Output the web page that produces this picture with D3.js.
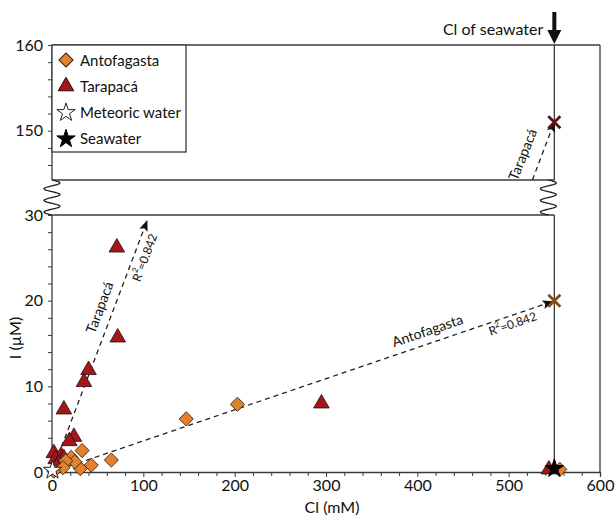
<!DOCTYPE html>
<html>
<head>
<meta charset="utf-8">
<script src="https://cdn.jsdelivr.net/npm/d3@7"></script>
<style>
    body { margin: 0; background: #fff; }
    text { font-family: Lato, "Open Sans", sans-serif; fill: #111; }
</style>
</head>
<body>
<div id="chart"></div>
<script>
// Cl (mM) vs I (uM)
var antoCl = [203, 147, 65, 43, 31, 33, 21, 25, 15, 12, 2, 556];
var antoI = [7.9, 6.2, 1.4, 0.8, 0.4, 2.5, 1.7, 1.2, 1.3, 0.5, 0.1, 0.3];

var taraCl = [71, 72, 40, 35, 13, 24, 19, 2, 10, 13, 4, 7, 5, 295, 544];
var taraI = [26.2, 15.7, 11.9, 10.5, 7.3, 4.1, 3.6, 2.2, 1.9, 1.6, 1.5, 1.0, 0.6, 8.0, 0.3];

var meteoricCl = [0.5], meteoricI = [0.2];
var seawaterCl = [550], seawaterI = [0.4];

// fitted trends (end points) and the seawater intercepts
var taraFitLow = [[0, 0], [104, 29.3]];
var taraFitHigh = [[526, 144.25], [550, 151]];
var antoFit = [[0, 0], [548, 19.9]];
var projected = [{cl: 550, i: 151, c: "#5b1313"}, {cl: 550, i: 20, c: "#8a4a12"}];

var xTicks = [0, 100, 200, 300, 400, 500, 600];
var yLowTicks = [0, 10, 20, 30];
var yHighTicks = [150, 160];
var seawaterClLine = 550;

var width = 615, height = 519;

var x = d3.scaleLinear().domain([0, 600]).range([52, 600]);
var yLo = d3.scaleLinear().domain([0, 30]).range([472, 215]);
var yHi = d3.scaleLinear().domain([144.25, 160]).range([180, 45]);

var svg = d3.select("#chart").append("svg")
    .attr("width", width)
    .attr("height", height);

var defs = svg.append("defs");
defs.append("marker")
    .attr("id", "arr")
    .attr("viewBox", "0 0 10 10")
    .attr("refX", 9).attr("refY", 5)
    .attr("markerWidth", 11).attr("markerHeight", 11)
    .attr("markerUnits", "userSpaceOnUse")
    .attr("orient", "auto")
    .append("path")
    .attr("d", "M0,1 L10,5 L0,9 L2,5 Z")
    .attr("fill", "#111");

var axisColor = "#3a3a3a";

// frame
var sx = x(seawaterClLine);
svg.append("line").attr("x1", x(0)).attr("x2", x(600)).attr("y1", yHi(160)).attr("y2", yHi(160))
    .attr("stroke", axisColor).attr("stroke-width", 1.3);
svg.append("line").attr("x1", x(600)).attr("x2", x(600)).attr("y1", yHi(160)).attr("y2", yLo(0))
    .attr("stroke", axisColor).attr("stroke-width", 1.3);
svg.append("line").attr("x1", x(0)).attr("x2", sx).attr("y1", yHi.range()[0]).attr("y2", yHi.range()[0])
    .attr("stroke", axisColor).attr("stroke-width", 1.3);
svg.append("line").attr("x1", x(0)).attr("x2", sx).attr("y1", yLo(30)).attr("y2", yLo(30))
    .attr("stroke", axisColor).attr("stroke-width", 1.3);

// left axis segments
svg.append("line").attr("x1", x(0)).attr("x2", x(0)).attr("y1", yHi(160)).attr("y2", yHi.range()[0])
    .attr("stroke", axisColor).attr("stroke-width", 1.3);
svg.append("line").attr("x1", x(0)).attr("x2", x(0)).attr("y1", yLo(30)).attr("y2", yLo(0))
    .attr("stroke", axisColor).attr("stroke-width", 1.3);

// seawater Cl line
svg.append("line").attr("x1", sx).attr("x2", sx).attr("y1", yHi(160)).attr("y2", yHi.range()[0])
    .attr("stroke", axisColor).attr("stroke-width", 1.3);
svg.append("line").attr("x1", sx).attr("x2", sx).attr("y1", yLo(30)).attr("y2", yLo(0))
    .attr("stroke", axisColor).attr("stroke-width", 1.3);

// break squiggles
function squiggle(cx, y0, y1, amp) {
    var pts = d3.range(0, 1.0001, 0.01).map(function (t) {
        return [cx + amp * Math.sin(t * Math.PI * 6), y0 + t * (y1 - y0)];
    });
    svg.append("path")
        .attr("d", d3.line().curve(d3.curveBasis)(pts))
        .attr("fill", "none")
        .attr("stroke", "#222")
        .attr("stroke-width", 1.3);
}
squiggle(x(0), yHi.range()[0], yLo(30), 8);
squiggle(sx - 6, yHi.range()[0], yLo(30), 8);

// arrow "Cl of seawater"
svg.append("path")
    .attr("d", "M" + (sx - 2) + ",12 L" + (sx + 2) + ",12 L" + (sx + 2) + ",30 L" + (sx + 7) + ",30 L" + sx + ",44 L" + (sx - 7) + ",30 L" + (sx - 2) + ",30 Z")
    .attr("fill", "#111");
svg.append("text")
    .attr("x", sx - 11).attr("y", 35)
    .attr("text-anchor", "end")
    .style("font-size", "16px")
    .text("Cl of seawater");

// x axis
var xAxisG = svg.append("g")
    .attr("transform", "translate(0," + yLo(0) + ")")
    .call(d3.axisBottom(x).tickValues(xTicks).tickSize(5).tickPadding(3));
xAxisG.select(".domain").attr("stroke", axisColor).attr("stroke-width", 1.3);
xAxisG.selectAll(".tick line").attr("stroke", axisColor);
xAxisG.selectAll(".tick text").style("font-size", "16px").attr("fill", "#111");
svg.append("g")
    .attr("transform", "translate(0," + yLo(0) + ")")
    .call(d3.axisBottom(x).tickValues(d3.range(20, 600, 20).filter(function (d) { return d % 100; }))
        .tickSize(4).tickFormat(""))
    .call(function (g) { g.select(".domain").remove(); g.selectAll("line").attr("stroke", axisColor); });

// y axes
function yAxis(scale, major, minor) {
    var g = svg.append("g")
        .attr("transform", "translate(" + x(0) + ",0)")
        .call(d3.axisLeft(scale).tickValues(major).tickSize(4).tickPadding(5));
    g.select(".domain").remove();
    g.selectAll(".tick line").attr("stroke", axisColor);
    g.selectAll(".tick text").style("font-size", "16px").attr("fill", "#111");
    svg.append("g")
        .attr("transform", "translate(" + x(0) + ",0)")
        .call(d3.axisLeft(scale).tickValues(minor).tickSize(4).tickFormat(""))
        .call(function (m) { m.select(".domain").remove(); m.selectAll("line").attr("stroke", axisColor); });
}
yAxis(yLo, yLowTicks, d3.range(2, 30, 2).filter(function (d) { return d % 10; }));
yAxis(yHi, yHighTicks, d3.range(146, 160, 2).filter(function (d) { return d % 10; }));

// axis titles
svg.append("text")
    .attr("x", 332).attr("y", 513)
    .attr("text-anchor", "middle")
    .style("font-size", "16px")
    .text("Cl (mM)");
svg.append("text")
    .attr("transform", "translate(21,338) rotate(-90)")
    .attr("text-anchor", "middle")
    .style("font-size", "16px")
    .text("I (\u00b5M)");

// trend lines
function fitLine(pts, yScale) {
    svg.append("line")
        .attr("x1", x(pts[0][0])).attr("y1", yScale(pts[0][1]))
        .attr("x2", x(pts[1][0])).attr("y2", yScale(pts[1][1]))
        .attr("stroke", "#222")
        .attr("stroke-width", 1.3)
        .attr("stroke-dasharray", "5,4")
        .attr("marker-end", "url(#arr)");
}
fitLine(taraFitLow, yLo);
fitLine(taraFitHigh, yHi);
fitLine(antoFit, yLo);

function lineLabel(txt, px, py, ang, size) {
    svg.append("text")
        .attr("transform", "translate(" + px + "," + py + ") rotate(" + ang + ")")
        .attr("text-anchor", "middle")
        .attr("dominant-baseline", "middle")
        .style("font-size", size + "px")
        .text(txt);
}
function r2Label(px, py, ang) {
    var t = svg.append("text")
        .attr("transform", "translate(" + px + "," + py + ") rotate(" + ang + ")")
        .attr("text-anchor", "middle")
        .attr("dominant-baseline", "middle")
        .style("font-size", "12px");
    t.append("tspan").text("R");
    t.append("tspan").attr("dy", -5).style("font-size", "8px").text("2");
    t.append("tspan").attr("dy", 5).text("=0.842");
}
lineLabel("Tarapac\u00e1", 101, 308, -69.5, 14);
r2Label(146, 258, -69.5);
lineLabel("Tarapac\u00e1", 524, 155, -68, 14);
lineLabel("Antofagasta", 428, 332, -18.8, 14);
r2Label(513, 325, -18.8);

// projected intercepts at seawater Cl
projected.forEach(function (p) {
    var yy = p.i > 30 ? yHi(p.i) : yLo(p.i);
    var px = x(p.cl), s = 6;
    svg.append("path")
        .attr("d", "M" + (px - s) + "," + (yy - s) + "L" + (px + s) + "," + (yy + s) +
            "M" + (px + s) + "," + (yy - s) + "L" + (px - s) + "," + (yy + s))
        .attr("stroke", p.c)
        .attr("stroke-width", 2.8);
});

// points
var triangle = d3.symbol().type(d3.symbolTriangle).size(105);
var diamond = d3.symbol().type(d3.symbolSquare).size(100);
var star = d3.symbol().type(d3.symbolStar).size(105);

svg.append("g").selectAll("path")
    .data(d3.range(taraCl.length))
    .enter().append("path")
    .attr("d", triangle)
    .attr("transform", function (k) { return "translate(" + x(taraCl[k]) + "," + yLo(taraI[k]) + ")"; })
    .attr("fill", "#a3161b")
    .attr("stroke", "#2a0a0a")
    .attr("stroke-width", 0.8);

svg.append("g").selectAll("path")
    .data(d3.range(antoCl.length))
    .enter().append("path")
    .attr("d", diamond)
    .attr("transform", function (k) { return "translate(" + x(antoCl[k]) + "," + yLo(antoI[k]) + ") rotate(45)"; })
    .attr("fill", "#e3822c")
    .attr("stroke", "#2e1d0e")
    .attr("stroke-width", 0.8);

svg.append("g").selectAll("path")
    .data(d3.range(meteoricCl.length))
    .enter().append("path")
    .attr("d", star)
    .attr("transform", function (k) { return "translate(" + x(meteoricCl[k]) + "," + yLo(meteoricI[k]) + ")"; })
    .attr("fill", "#fff")
    .attr("stroke", "#222")
    .attr("stroke-width", 1);

svg.append("g").selectAll("path")
    .data(d3.range(seawaterCl.length))
    .enter().append("path")
    .attr("d", star)
    .attr("transform", function (k) { return "translate(" + x(seawaterCl[k]) + "," + yLo(seawaterI[k]) + ")"; })
    .attr("fill", "#000")
    .attr("stroke", "#000")
    .attr("stroke-width", 1);

// legend
var legend = svg.append("g");
legend.append("rect")
    .attr("x", x(0)).attr("y", yHi(160))
    .attr("width", 134).attr("height", 107)
    .attr("fill", "#fff")
    .attr("stroke", axisColor)
    .attr("stroke-width", 1.3);
var items = [
    {name: "Antofagasta", sym: diamond, fill: "#e3822c", stroke: "#2e1d0e", rot: 45},
    {name: "Tarapac\u00e1", sym: triangle, fill: "#a3161b", stroke: "#2a0a0a", rot: 0},
    {name: "Meteoric water", sym: star, fill: "#fff", stroke: "#222", rot: 0},
    {name: "Seawater", sym: star, fill: "#000", stroke: "#000", rot: 0}
];
items.forEach(function (it, k) {
    var ly = 60 + k * 26.3;
    legend.append("path")
        .attr("d", it.sym)
        .attr("transform", "translate(66," + ly + ") rotate(" + it.rot + ")")
        .attr("fill", it.fill)
        .attr("stroke", it.stroke)
        .attr("stroke-width", 1);
    legend.append("text")
        .attr("x", 80).attr("y", ly + 5.5)
        .style("font-size", "15px")
        .text(it.name);
});
</script>
</body>
</html>
